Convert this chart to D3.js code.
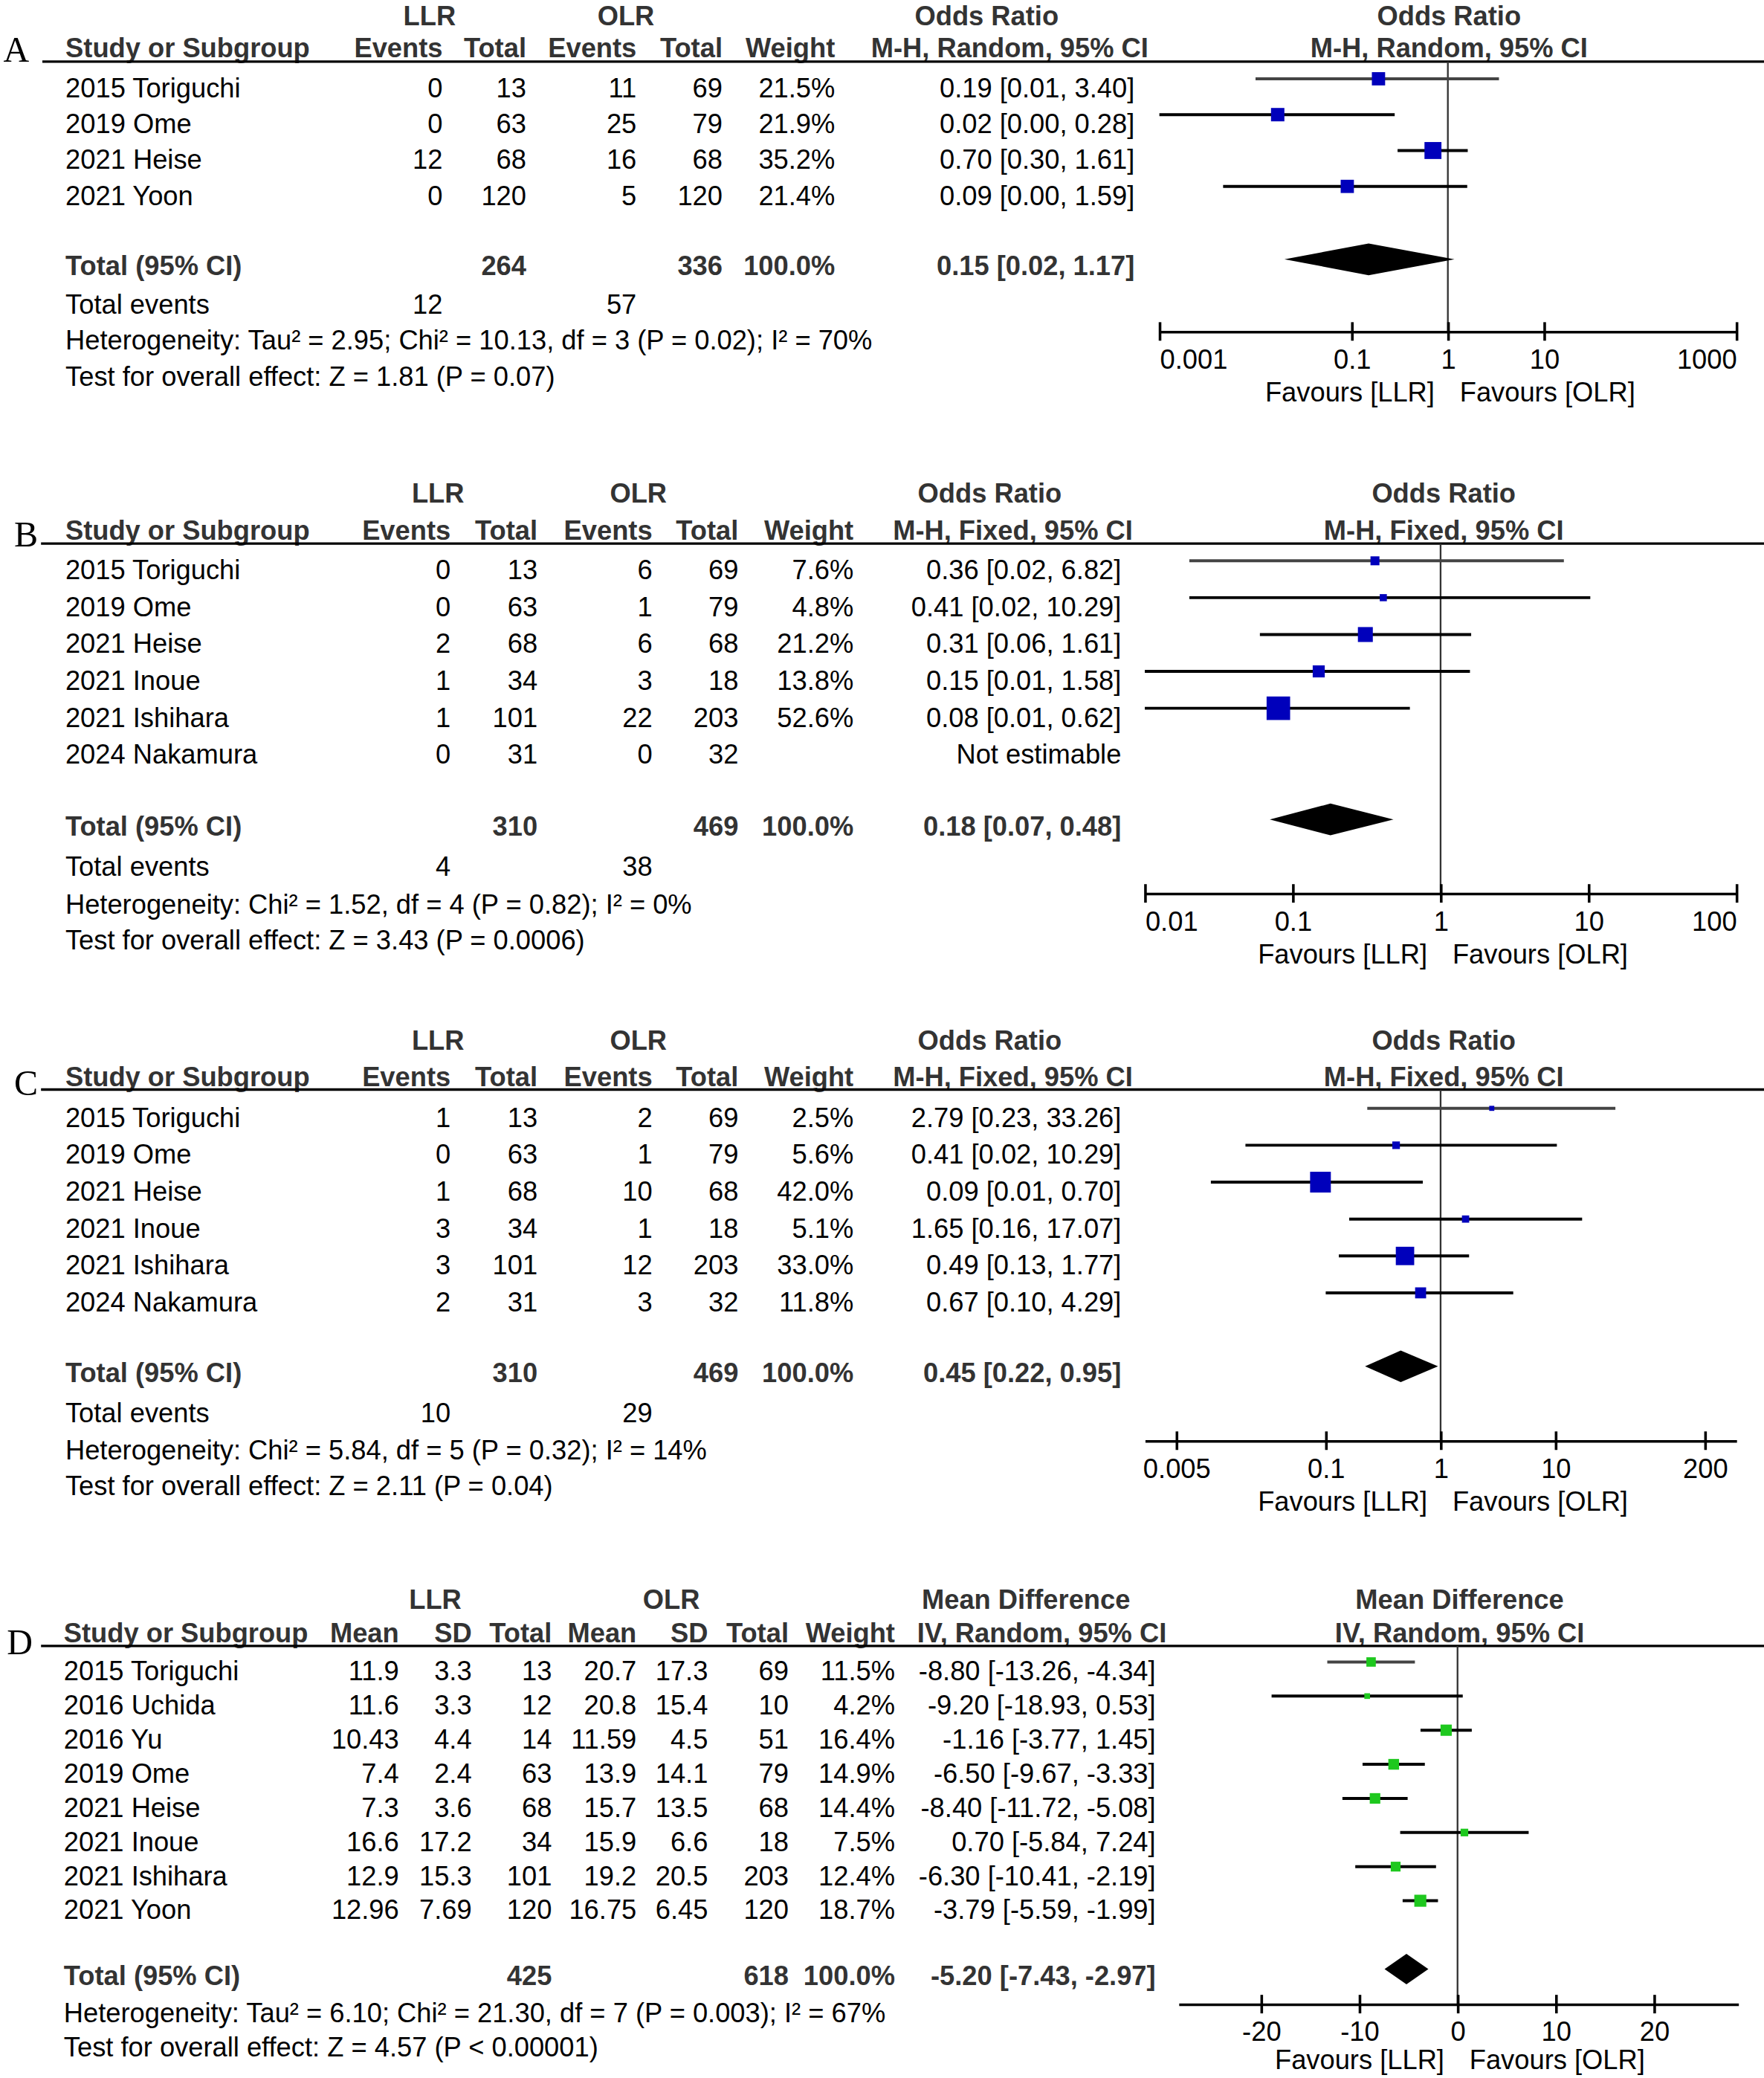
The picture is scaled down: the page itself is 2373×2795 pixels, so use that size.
<!DOCTYPE html>
<html>
<head>
<meta charset="utf-8">
<script src="https://cdnjs.cloudflare.com/ajax/libs/d3/7.8.5/d3.min.js"></script>
<style>
html, body { margin: 0; padding: 0; background: #fff; }
svg { display: block; }
text { font-family: "Liberation Sans", Arial, Helvetica, sans-serif; font-size: 20.4px; fill: #000; }
.hd { font-weight: bold; fill: #333; }
.lt { font-family: "Liberation Serif", "Times New Roman", serif; font-size: 27px; fill: #000; }
</style>
</head>
<body>
<svg id="chart"></svg>
<script>
// ---------- data: panel A (odds ratio, random) ----------
var studiesA = ["2015 Toriguchi", "2019 Ome", "2021 Heise", "2021 Yoon"];
var llrEventsA = [0, 0, 12, 0];
var llrTotalA = [13, 63, 68, 120];
var olrEventsA = [11, 25, 16, 5];
var olrTotalA = [69, 79, 68, 120];
var weightA = [21.5, 21.9, 35.2, 21.4];
var orA = [0.19, 0.017, 0.70, 0.09];
var loA = [0.01, 0.0008, 0.30, 0.0046];
var hiA = [3.40, 0.28, 1.61, 1.59];
var totalA = [264, 336];           // LLR total, OLR total
var totalEventsA = [12, 57];
var pooledA = [0.15, 0.02, 1.17];  // est, lo, hi
var statsA = ["Heterogeneity: Tau\u00b2 = 2.95; Chi\u00b2 = 10.13, df = 3 (P = 0.02); I\u00b2 = 70%",
              "Test for overall effect: Z = 1.81 (P = 0.07)"];
var ticksA = [0.001, 0.1, 1, 10, 1000];

// ---------- data: panel B (odds ratio, fixed) ----------
var studiesB = ["2015 Toriguchi", "2019 Ome", "2021 Heise", "2021 Inoue", "2021 Ishihara", "2024 Nakamura"];
var llrEventsB = [0, 0, 2, 1, 1, 0];
var llrTotalB = [13, 63, 68, 34, 101, 31];
var olrEventsB = [6, 1, 6, 3, 22, 0];
var olrTotalB = [69, 79, 68, 18, 203, 32];
var weightB = [7.6, 4.8, 21.2, 13.8, 52.6, null];
var orB = [0.36, 0.41, 0.31, 0.15, 0.08, null];
var loB = [0.02, 0.02, 0.06, 0.01, 0.01, null];
var hiB = [6.82, 10.29, 1.61, 1.58, 0.62, null];
var totalB = [310, 469];
var totalEventsB = [4, 38];
var pooledB = [0.18, 0.07, 0.48];
var statsB = ["Heterogeneity: Chi\u00b2 = 1.52, df = 4 (P = 0.82); I\u00b2 = 0%",
              "Test for overall effect: Z = 3.43 (P = 0.0006)"];
var ticksB = [0.01, 0.1, 1, 10, 100];

// ---------- data: panel C (odds ratio, fixed) ----------
var studiesC = ["2015 Toriguchi", "2019 Ome", "2021 Heise", "2021 Inoue", "2021 Ishihara", "2024 Nakamura"];
var llrEventsC = [1, 0, 1, 3, 3, 2];
var llrTotalC = [13, 63, 68, 34, 101, 31];
var olrEventsC = [2, 1, 10, 1, 12, 3];
var olrTotalC = [69, 79, 68, 18, 203, 32];
var weightC = [2.5, 5.6, 42.0, 5.1, 33.0, 11.8];
var orC = [2.79, 0.41, 0.09, 1.65, 0.49, 0.67];
var loC = [0.23, 0.02, 0.01, 0.16, 0.13, 0.10];
var hiC = [33.26, 10.29, 0.70, 17.07, 1.77, 4.29];
var totalC = [310, 469];
var totalEventsC = [10, 29];
var pooledC = [0.45, 0.22, 0.95];
var statsC = ["Heterogeneity: Chi\u00b2 = 5.84, df = 5 (P = 0.32); I\u00b2 = 14%",
              "Test for overall effect: Z = 2.11 (P = 0.04)"];
var ticksC = [0.005, 0.1, 1, 10, 200];

// ---------- data: panel D (mean difference, random) ----------
var studiesD = ["2015 Toriguchi", "2016 Uchida", "2016 Yu", "2019 Ome", "2021 Heise", "2021 Inoue", "2021 Ishihara", "2021 Yoon"];
var llrMeanD = [11.9, 11.6, 10.43, 7.4, 7.3, 16.6, 12.9, 12.96];
var llrSdD = [3.3, 3.3, 4.4, 2.4, 3.6, 17.2, 15.3, 7.69];
var llrTotalD = [13, 12, 14, 63, 68, 34, 101, 120];
var olrMeanD = [20.7, 20.8, 11.59, 13.9, 15.7, 15.9, 19.2, 16.75];
var olrSdD = [17.3, 15.4, 4.5, 14.1, 13.5, 6.6, 20.5, 6.45];
var olrTotalD = [69, 10, 51, 79, 68, 18, 203, 120];
var weightD = [11.5, 4.2, 16.4, 14.9, 14.4, 7.5, 12.4, 18.7];
var mdD = [-8.80, -9.20, -1.16, -6.50, -8.40, 0.70, -6.30, -3.79];
var loD = [-13.26, -18.93, -3.77, -9.67, -11.72, -5.84, -10.41, -5.59];
var hiD = [-4.34, 0.53, 1.45, -3.33, -5.08, 7.24, -2.19, -1.99];
var totalD = [425, 618];
var pooledD = [-5.20, -7.43, -2.97];
var statsD = ["Heterogeneity: Tau\u00b2 = 6.10; Chi\u00b2 = 21.30, df = 7 (P = 0.003); I\u00b2 = 67%",
              "Test for overall effect: Z = 4.57 (P < 0.00001)"];
var ticksD = [-20, -10, 0, 10, 20];

// ---------- drawing ----------
var W = 1333, H = 1570;

var svg = d3.select("#chart")
    .attr("width", 2373).attr("height", 2795)
    .attr("viewBox", "0 0 " + W + " " + H);

function tx(g, x, y, s, anchor, cls) {
    return g.append("text")
        .attr("class", cls || null)
        .attr("text-anchor", anchor || "start")
        .attr("x", x).attr("y", y)
        .text(s);
}

var pct = function (w) { return w == null ? "" : w.toFixed(1) + "%"; };
var ci = function (e, l, h) { return e.toFixed(2) + " [" + l.toFixed(2) + ", " + h.toFixed(2) + "]"; };

function drawPanel(L, P) {
    var g = svg.append("g");
    var rowY = function (i) { return L.row0 + i * L.step; };

    g.append("text").attr("class", "lt")
        .attr("x", L.letterX).attr("y", L.letterY)
        .text(P.letter);

    // headers
    tx(g, L.llrX, L.groupY, "LLR", "middle", "hd");
    tx(g, L.olrX, L.groupY, "OLR", "middle", "hd");
    tx(g, L.effHx, L.groupY, P.effName, "middle", "hd");
    tx(g, L.forestHx, L.groupY, P.effName, "middle", "hd");
    tx(g, L.studyX, L.hdrY, "Study or Subgroup", "start", "hd");
    P.cols.forEach(function (c) { tx(g, c.x, L.hdrY, c.head, "end", "hd"); });
    tx(g, L.weightX, L.hdrY, "Weight", "end", "hd");
    tx(g, L.ciHdrX, L.hdrY, P.method, "end", "hd");
    tx(g, L.forestHx, L.hdrY, P.method, "middle", "hd");

    g.append("line")
        .attr("x1", L.ruleX).attr("x2", W)
        .attr("y1", L.ruleY).attr("y2", L.ruleY)
        .attr("stroke", "#000").attr("stroke-width", 1.9);

    // study rows
    P.studies.forEach(function (s, i) {
        var y = rowY(i);
        tx(g, L.studyX, y, s);
        P.cols.forEach(function (c) { tx(g, c.x, y, String(c.v[i]), "end"); });
        tx(g, L.weightX, y, pct(P.weight[i]), "end");
        tx(g, L.ciX, y, P.est[i] == null ? "Not estimable" : ci(P.est[i], P.lo[i], P.hi[i]), "end");
    });

    // total rows
    tx(g, L.studyX, L.totalY, "Total (95% CI)", "start", "hd");
    tx(g, P.cols[P.totIdx[0]].x, L.totalY, String(P.total[0]), "end", "hd");
    tx(g, P.cols[P.totIdx[1]].x, L.totalY, String(P.total[1]), "end", "hd");
    tx(g, L.weightX, L.totalY, "100.0%", "end", "hd");
    tx(g, L.ciX, L.totalY, ci(P.pooled[0], P.pooled[1], P.pooled[2]), "end", "hd");
    if (P.events) {
        tx(g, L.studyX, L.eventsY, "Total events");
        tx(g, P.cols[0].x, L.eventsY, String(P.events[0]), "end");
        tx(g, P.cols[2].x, L.eventsY, String(P.events[1]), "end");
    }
    tx(g, L.studyX, L.hetY, P.stats[0]);
    tx(g, L.studyX, L.testY, P.stats[1]);

    // forest scale
    var x = (P.log ? d3.scaleLog() : d3.scaleLinear())
        .domain(L.domain).range(L.axisX).clamp(true);
    var nullX = x(P.log ? 1 : 0);

    g.append("line")
        .attr("x1", nullX).attr("x2", nullX)
        .attr("y1", L.ruleY).attr("y2", L.axisY)
        .attr("stroke", "#333").attr("stroke-width", 1.3);

    var idx = d3.range(P.studies.length).filter(function (i) { return P.est[i] != null; });
    var side = d3.scaleSqrt().domain([0, 100]).range([0, L.k * 10]);

    g.selectAll("line.ci").data(idx).join("line")
        .attr("class", "ci")
        .attr("x1", function (i) { return x(P.lo[i]); })
        .attr("x2", function (i) { return x(P.hi[i]); })
        .attr("y1", function (i) { return rowY(i) - 14; })
        .attr("y2", function (i) { return rowY(i) - 14; })
        .attr("stroke", function (i) { return i === 0 ? "#444" : "#000"; })
        .attr("stroke-width", 2.2);

    g.selectAll("rect.sq").data(idx).join("rect")
        .attr("class", "sq")
        .attr("x", function (i) { return x(P.est[i]) - side(P.weight[i]) / 2; })
        .attr("y", function (i) { return rowY(i) - 14 - side(P.weight[i]) / 2; })
        .attr("width", function (i) { return side(P.weight[i]); })
        .attr("height", function (i) { return side(P.weight[i]); })
        .attr("fill", P.color);

    var yd = L.totalY - 12, dh = L.dh / 2;
    g.append("path")
        .attr("d", "M" + x(P.pooled[1]) + "," + yd + "L" + x(P.pooled[0]) + "," + (yd - dh) +
            "L" + x(P.pooled[2]) + "," + yd + "L" + x(P.pooled[0]) + "," + (yd + dh) + "Z")
        .attr("fill", "#000");

    // axis
    var ax = g.append("g")
        .attr("transform", "translate(0," + L.axisY + ")")
        .call(d3.axisBottom(x).tickValues(P.ticks).tickFormat(function (d) { return String(d); })
            .tickSize(7).tickSizeOuter(0));
    ax.attr("font-size", null).attr("font-family", null);
    ax.select(".domain").attr("stroke", "#000").attr("stroke-width", 2);
    ax.selectAll(".tick line").attr("y1", -7).attr("y2", 7).attr("stroke", "#000").attr("stroke-width", 2);
    ax.selectAll(".tick text")
        .attr("y", 28).attr("dy", null).attr("fill", "#000")
        .attr("text-anchor", function (d) {
            var p = x(d);
            if (Math.abs(p - L.axisX[0]) < 1) return "start";
            if (Math.abs(p - L.axisX[1]) < 1) return "end";
            return "middle";
        });

    tx(g, nullX - 10, L.axisY + L.favDy, "Favours [LLR]", "end");
    tx(g, nullX + 9, L.axisY + L.favDy, "Favours [OLR]", "start");
}

// panel A
drawPanel({
    letterX: 2.5, letterY: 46.5, groupY: 19, hdrY: 43, ruleX: 32, ruleY: 46.5,
    studyX: 49.5, row0: 73.5, step: 27.1, totalY: 207.9, eventsY: 237, hetY: 264.1, testY: 291.3,
    llrX: 324.6, olrX: 473, weightX: 631, ciX: 857.4, ciHdrX: 867.8, effHx: 745.6, forestHx: 1095,
    axisY: 250.4, axisX: [876.1, 1312.1], domain: [0.001, 1000], favDy: 53, k: 2.16, dh: 24
}, {
    letter: "A", effName: "Odds Ratio", method: "M-H, Random, 95% CI", log: true, color: "#0000bb",
    studies: studiesA,
    cols: [
        { head: "Events", x: 334.5, v: llrEventsA },
        { head: "Total", x: 397.7, v: llrTotalA },
        { head: "Events", x: 481, v: olrEventsA },
        { head: "Total", x: 546, v: olrTotalA }
    ],
    totIdx: [1, 3], weight: weightA, est: orA, lo: loA, hi: hiA,
    total: totalA, events: totalEventsA, pooled: pooledA, stats: statsA, ticks: ticksA
});

// panel B
drawPanel({
    letterX: 10.7, letterY: 413, groupY: 379.7, hdrY: 407.7, ruleX: 31, ruleY: 410.7,
    studyX: 49.4, row0: 437.7, step: 27.85, totalY: 631.1, eventsY: 661.8, hetY: 690.3, testY: 717.1,
    llrX: 331, olrX: 482.4, weightX: 645, ciX: 847.3, ciHdrX: 856, effHx: 747.9, forestHx: 1091,
    axisY: 675, axisX: [865.1, 1312.1], domain: [0.01, 100], favDy: 53, k: 2.45, dh: 24
}, {
    letter: "B", effName: "Odds Ratio", method: "M-H, Fixed, 95% CI", log: true, color: "#0000bb",
    studies: studiesB,
    cols: [
        { head: "Events", x: 340.5, v: llrEventsB },
        { head: "Total", x: 406.2, v: llrTotalB },
        { head: "Events", x: 493, v: olrEventsB },
        { head: "Total", x: 558, v: olrTotalB }
    ],
    totIdx: [1, 3], weight: weightB, est: orB, lo: loB, hi: hiB,
    total: totalB, events: totalEventsB, pooled: pooledB, stats: statsB, ticks: ticksB
});

// panel C
drawPanel({
    letterX: 10.7, letterY: 827.5, groupY: 793.4, hdrY: 820.4, ruleX: 31, ruleY: 823.2,
    studyX: 49.4, row0: 851.4, step: 27.88, totalY: 1044.3, eventsY: 1074.3, hetY: 1102.8, testY: 1129.6,
    llrX: 331, olrX: 482.4, weightX: 645, ciX: 847.3, ciHdrX: 856, effHx: 747.9, forestHx: 1091,
    axisY: 1088.5, axisX: [865.1, 1312.1], domain: [0.00266, 375.8], favDy: 53, k: 2.42, dh: 24
}, {
    letter: "C", effName: "Odds Ratio", method: "M-H, Fixed, 95% CI", log: true, color: "#0000bb",
    studies: studiesC,
    cols: [
        { head: "Events", x: 340.5, v: llrEventsC },
        { head: "Total", x: 406.2, v: llrTotalC },
        { head: "Events", x: 493, v: olrEventsC },
        { head: "Total", x: 558, v: olrTotalC }
    ],
    totIdx: [1, 3], weight: weightC, est: orC, lo: loC, hi: hiC,
    total: totalC, events: totalEventsC, pooled: pooledC, stats: statsC, ticks: ticksC
});

// panel D
drawPanel({
    letterX: 5.2, letterY: 1250, groupY: 1215.7, hdrY: 1240.6, ruleX: 31, ruleY: 1243.6,
    studyX: 48.2, row0: 1269.7, step: 25.77, totalY: 1499.7, eventsY: null, hetY: 1527.9, testY: 1553.7,
    llrX: 328.9, olrX: 507.3, weightX: 676.3, ciX: 873.3, ciHdrX: 881.5, effHx: 775.3, forestHx: 1103,
    axisY: 1514.2, axisX: [890.6, 1313.5], domain: [-28.4, 28.57], favDy: 49.3, k: 2.1, dh: 23
}, {
    letter: "D", effName: "Mean Difference", method: "IV, Random, 95% CI", log: false, color: "#1ec81e",
    studies: studiesD,
    cols: [
        { head: "Mean", x: 301.5, v: llrMeanD },
        { head: "SD", x: 356.5, v: llrSdD },
        { head: "Total", x: 417, v: llrTotalD },
        { head: "Mean", x: 481, v: olrMeanD },
        { head: "SD", x: 535, v: olrSdD },
        { head: "Total", x: 596, v: olrTotalD }
    ],
    totIdx: [2, 5], weight: weightD, est: mdD, lo: loD, hi: hiD,
    total: totalD, events: null, pooled: pooledD, stats: statsD, ticks: ticksD
});
</script>
</body>
</html>
